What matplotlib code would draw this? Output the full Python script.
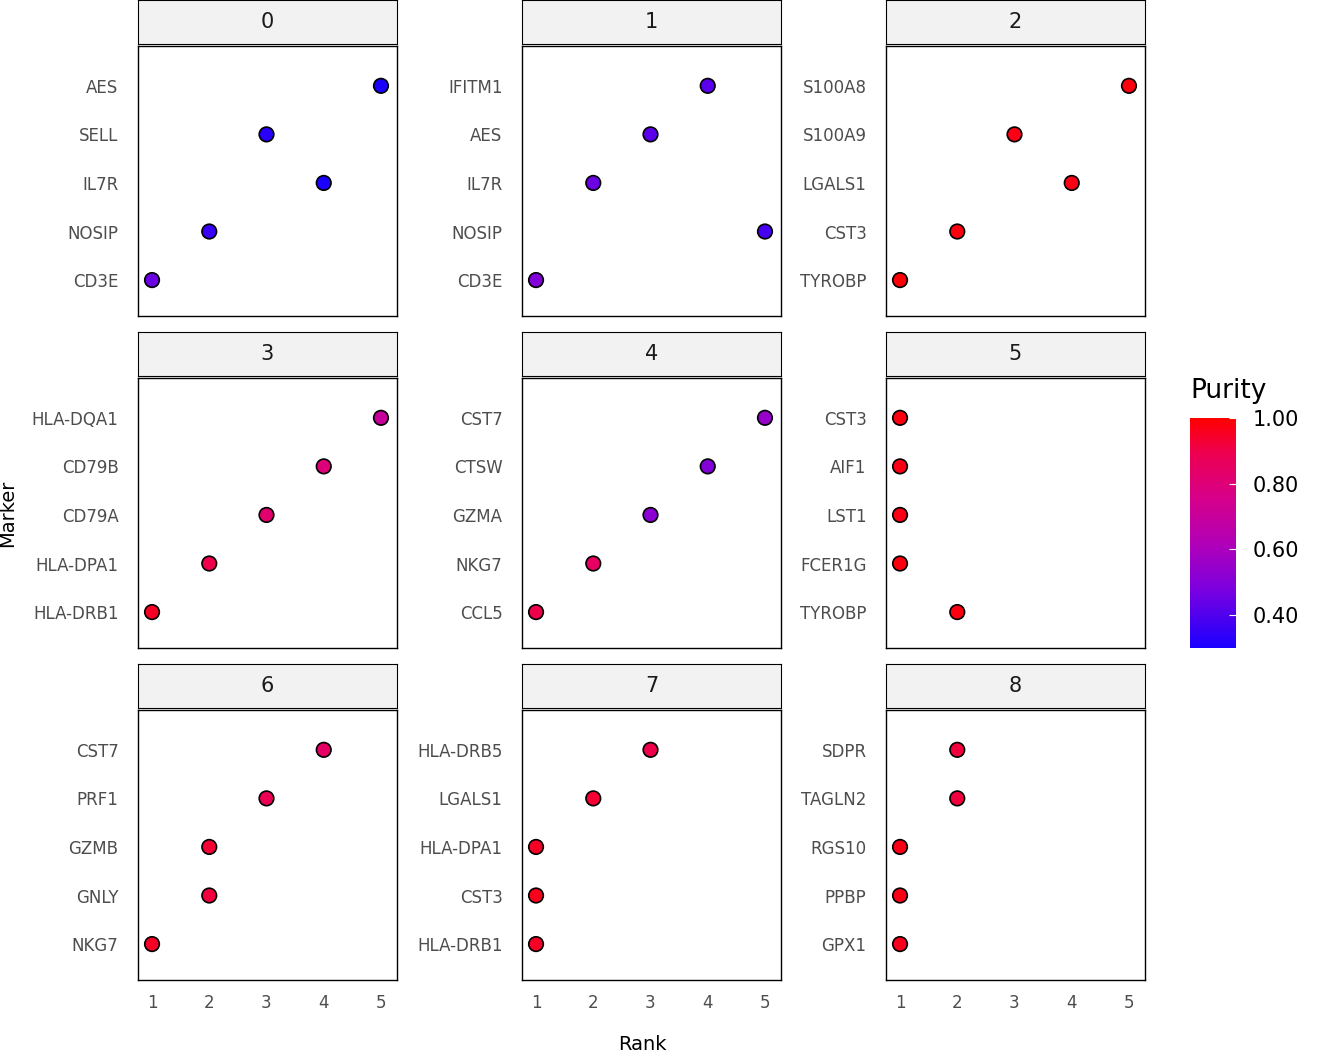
import matplotlib
matplotlib.use("Agg")
import matplotlib.pyplot as plt
from matplotlib.colors import LinearSegmentedColormap, Normalize
import numpy as np

clusters = ["0","1","2","3","4","5","6","7","8"]
markers = [
    ["CD3E","NOSIP","IL7R","SELL","AES"],
    ["CD3E","NOSIP","IL7R","AES","IFITM1"],
    ["TYROBP","CST3","LGALS1","S100A9","S100A8"],
    ["HLA-DRB1","HLA-DPA1","CD79A","CD79B","HLA-DQA1"],
    ["CCL5","NKG7","GZMA","CTSW","CST7"],
    ["TYROBP","FCER1G","LST1","AIF1","CST3"],
    ["NKG7","GNLY","GZMB","PRF1","CST7"],
    ["HLA-DRB1","CST3","HLA-DPA1","LGALS1","HLA-DRB5"],
    ["GPX1","PPBP","RGS10","TAGLN2","SDPR"],
]
ranks = [
    [1,2,4,3,5],[1,5,2,3,4],[1,2,4,3,5],[1,2,3,4,5],[1,2,3,4,5],
    [2,1,1,1,1],[1,2,2,3,4],[1,1,1,2,3],[1,1,1,2,2],
]
purity = [
    [0.45,0.36,0.30,0.33,0.30],
    [0.50,0.38,0.45,0.42,0.42],
    [0.99,0.98,0.97,0.97,0.98],
    [0.95,0.90,0.82,0.80,0.70],
    [0.90,0.85,0.52,0.50,0.55],
    [0.98,0.98,0.97,0.97,0.98],
    [0.95,0.92,0.93,0.88,0.84],
    [0.95,0.96,0.95,0.93,0.90],
    [0.96,0.97,0.97,0.92,0.92],
]

cmap = LinearSegmentedColormap.from_list("p", [(0,"#1a00ff"),(0.25,"#7a00e0"),(0.45,"#b000b8"),(0.65,"#d6008a"),(0.85,"#ee0050"),(1,"#ff0000")])
norm = Normalize(0.30, 1.00)

W, H = 1344, 1056
fig = plt.figure(figsize=(W/100, H/100), dpi=100)
xs = [138, 522, 886]
pw = 259
rows = [(0, 46, 316), (332, 378, 648), (664, 710, 980)]
for i in range(9):
    r, c = divmod(i, 3)
    st, top, bot = rows[r]
    x0 = xs[c]
    ax = fig.add_axes([x0/W, 1-bot/H, pw/W, (bot-top)/H])
    ys = np.arange(1, 6)
    ax.scatter(ranks[i], ys, c=purity[i], cmap=cmap, norm=norm, s=110,
               edgecolors="black", linewidths=1.2, zorder=3)
    ax.set_xlim(0.755, 5.28)
    ax.set_ylim(0.26, 5.82)
    ax.set_yticks(ys)
    ax.set_yticklabels(markers[i], fontsize=12, color="#4d4d4d")
    ax.tick_params(axis="y", length=0, pad=14)
    ax.set_xticks([1,2,3,4,5])
    if r == 2:
        ax.tick_params(axis="x", length=0, labelsize=12, labelcolor="#4d4d4d", pad=10)
    else:
        ax.tick_params(axis="x", length=0, labelbottom=False)
    for s in ax.spines.values():
        s.set_linewidth(1.0)
    sax = fig.add_axes([x0/W, 1-(top-2)/H, pw/W, (top-2-st)/H])
    sax.set_facecolor("#f2f2f2")
    sax.set_xticks([]); sax.set_yticks([])
    sax.text(0.5, 0.5, clusters[i], ha="center", va="center", fontsize=15, color="#1a1a1a", transform=sax.transAxes)

fig.text(642/W, 1-1044/H, "Rank", ha="center", va="center", fontsize=14)
fig.text(8/W, 1-513/H, "Marker", ha="center", va="center", rotation=90, fontsize=14)

cax = fig.add_axes([1190/W, 1-648/H, 46/W, 230/H])
cb = fig.colorbar(plt.cm.ScalarMappable(norm=norm, cmap=cmap), cax=cax, ticks=[0.4,0.6,0.8,1.0])
cb.set_ticklabels(["0.40","0.60","0.80","1.00"])
cb.outline.set_visible(False)
cax.tick_params(labelsize=15, length=5, color="white", direction="in", pad=12)
fig.text(1190/W, 1-391/H, "Purity", ha="left", va="center", fontsize=19)

fig.savefig("out.png", dpi=100)
